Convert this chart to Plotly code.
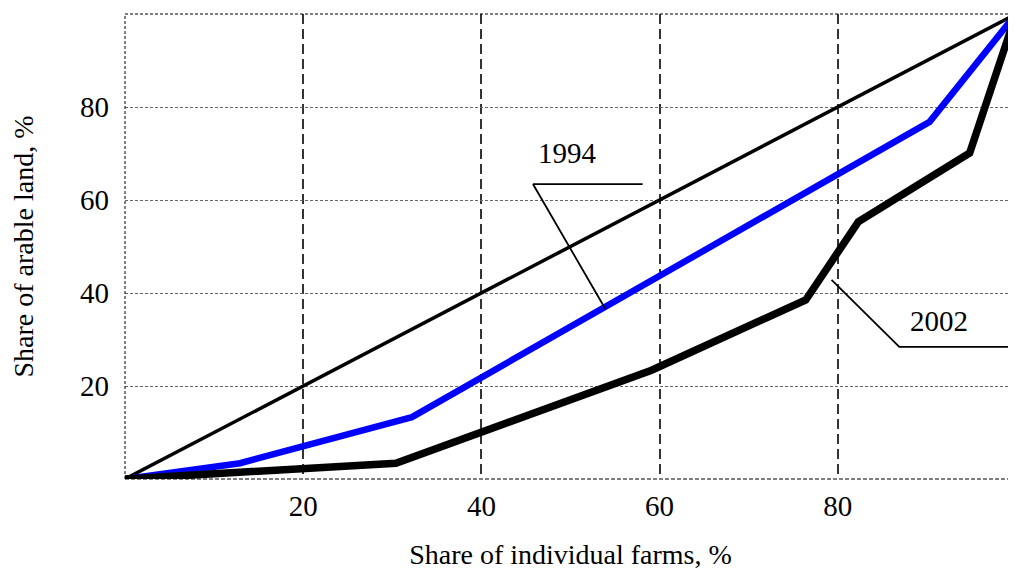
import plotly.graph_objects as go

# Lorenz-type curves: share of individual farms (x, %) vs share of arable land (y, %)
equality_x = [0, 100]
equality_y = [0, 100]

x_1994 = [0, 12.9, 32.2, 90.3, 100]
y_1994 = [0, 3.4, 13.3, 76.8, 100]

x_2002 = [0, 18.2, 30.4, 59.1, 76.4, 82.3, 94.8, 100]
y_2002 = [0, 2.0, 3.4, 23.4, 38.5, 55.3, 70.1, 100]

tick_vals = [20, 40, 60, 80]
tick_text = ["20", "40", "60", "80"]

FONT = "Liberation Serif"

fig = go.Figure()
fig.add_trace(go.Scatter(x=equality_x, y=equality_y, mode="lines",
                         line=dict(color="black", width=3.5), showlegend=False))
fig.add_trace(go.Scatter(x=x_1994, y=y_1994, mode="lines",
                         line=dict(color="#0000ff", width=6.5), showlegend=False))
fig.add_trace(go.Scatter(x=x_2002, y=y_2002, mode="lines",
                         line=dict(color="black", width=7.5), showlegend=False))

# leader lines for labels
fig.add_trace(go.Scatter(x=[58.1, 45.8, 53.9], y=[63.4, 63.4, 36.6], mode="lines",
                         line=dict(color="black", width=1.8), showlegend=False))
fig.add_trace(go.Scatter(x=[79.3, 86.9, 99.1], y=[42.8, 28.4, 28.4], mode="lines",
                         line=dict(color="black", width=1.8), showlegend=False))

fig.add_annotation(x=49.7, y=70.1, text="1994", showarrow=False,
                   font=dict(family=FONT, size=29, color="black"))
fig.add_annotation(x=91.4, y=34.0, text="2002", showarrow=False,
                   font=dict(family=FONT, size=29, color="black"))

# dashed frame lines
fig.add_shape(type="line", xref="paper", yref="paper", x0=0, x1=1, y0=1, y1=1,
              line=dict(color="black", width=1, dash="3px,2px"))
fig.add_shape(type="line", xref="paper", yref="paper", x0=0, x1=0, y0=0, y1=1,
              line=dict(color="black", width=1, dash="3px,2px"))
fig.add_shape(type="line", xref="paper", yref="paper", x0=0, x1=1, y0=0, y1=0,
              line=dict(color="black", width=1, dash="4px,2px"))

fig.update_layout(
    width=1008, height=563,
    margin=dict(l=117, r=0, t=6, b=92),
    plot_bgcolor="white", paper_bgcolor="white",
    font=dict(family=FONT, size=29, color="black"),
    xaxis=dict(range=[0, 100], tickvals=tick_vals, ticktext=tick_text,
               showgrid=True, gridcolor="#333333", gridwidth=1.5, griddash="10px,5px",
               zeroline=False, showline=False, ticks="", ticklabelstandoff=7,
               tickfont=dict(family=FONT, size=29),
               title=dict(text="Share of individual farms, %", standoff=23,
                          font=dict(family=FONT, size=28))),
    yaxis=dict(range=[0, 100], tickvals=tick_vals, ticktext=tick_text,
               showgrid=True, gridcolor="#666666", gridwidth=1, griddash="3px,2px",
               zeroline=False, showline=False, ticks="", ticklabelstandoff=15,
               tickfont=dict(family=FONT, size=29),
               title=dict(text="Share of arable land, %", standoff=38,
                          font=dict(family=FONT, size=28))),
)

fig.write_html("out.html")
